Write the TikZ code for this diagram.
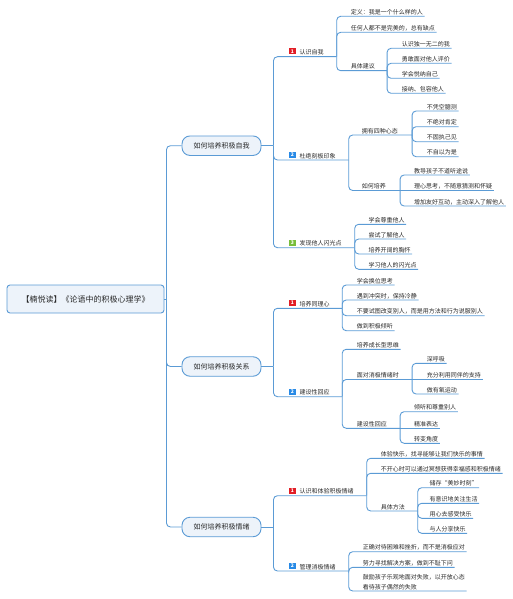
\documentclass[tikz,border=0pt]{standalone}
\usepackage{fontspec}
\setmainfont{Noto Sans CJK SC}
\definecolor{lineblue}{RGB}{91,155,213}
\definecolor{boxfill}{RGB}{237,243,250}
\definecolor{txt}{RGB}{40,40,40}
\definecolor{ired}{RGB}{226,30,38}
\definecolor{iblue}{RGB}{40,138,230}
\definecolor{igreen}{RGB}{120,190,60}
\tikzset{
 conn/.style={draw=lineblue, line width=0.9pt, rounded corners=4pt},
 stub/.style={draw=lineblue, line width=0.9pt},
 leafbase/.style={anchor=south west, inner xsep=0pt, text=txt},
 leaf/.style={leafbase, inner ysep=0.8pt, text height=4.6pt, text depth=0.9pt, font=\fontsize{6}{7}\selectfont},
 leaftwo/.style={leafbase, inner ysep=1pt, align=left, font=\fontsize{6}{9.4}\selectfont},
 topic/.style={draw=lineblue, line width=0.9pt, fill=boxfill, rounded corners=8pt, minimum width=79pt, minimum height=19.5pt, inner sep=0pt, font=\fontsize{7}{8}\selectfont, text=txt},
 rootbox/.style={draw=lineblue, line width=0.9pt, fill=boxfill, rounded corners=3pt, minimum width=157pt, minimum height=28pt, inner sep=0pt, font=\fontsize{8}{9}\selectfont, text=txt},
 numicon/.style={anchor=south west, minimum width=6.3pt, minimum height=6pt, inner sep=0pt, text=white, font=\fontsize{5}{5}\selectfont\bfseries},
}
\newcommand{\mmnode}[7][|-]{%
  \node[leaf] (#2) at (#3,#4) {#5};
  \coordinate (#2e) at ([xshift=#7pt]#2.south east);
  \draw[conn] (#6) #1 (#2e);}
\begin{document}
\begin{tikzpicture}[x=1pt,y=-1pt]
\useasboundingbox (0,0) rectangle (513,599);
% root and main topics
\node[rootbox] (root) at (85.5,299) {【楠悦读】《论语中的积极心理学》};
\node[topic] (T1) at (221.5,145.7) {如何培养积极自我};
\node[topic] (T2) at (221.5,366.5) {如何培养积极关系};
\node[topic] (T3) at (221.5,527) {如何培养积极情绪};
\coordinate (rt) at ([xshift=2pt]root.east);
\draw[stub] (root.east) -- (rt);
\foreach \t in {T1,T2,T3} {\draw[conn] (rt) |- (\t.west);}
\foreach \t in {T1,T2,T3} {\coordinate (\t e) at ([xshift=12pt]\t.east); \draw[stub] (\t.east) -- (\t e);}
% ---- T1 ----
\mmnode{A}{299.3}{56.7}{认识自我}{T1e}{13}
\node[numicon, fill=ired] (Ai) at (289,54.7) {1};
\mmnode{B}{299.3}{160}{杜绝刻板印象}{T1e}{13}
\node[numicon, fill=iblue] (Bi) at (289,158) {2};
\mmnode{C}{299.3}{247.7}{发现他人闪光点}{T1e}{13}
\node[numicon, fill=igreen] (Ci) at (289,245.7) {3};
\mmnode{A1}{350.7}{16.3}{定义：我是一个什么样的人}{Ae}{1.5}
\mmnode{A2}{350.7}{32.3}{任何人都不是完美的，总有缺点}{Ae}{1.5}
\mmnode{A3}{350.7}{70.7}{具体建议}{Ae}{12}
\mmnode{A31}{401.7}{48.3}{认识独一无二的我}{A3e}{1.5}
\mmnode{A32}{401.7}{63.3}{勇敢面对他人评价}{A3e}{1.5}
\mmnode{A33}{401.7}{78.3}{学会悦纳自己}{A3e}{1.5}
\mmnode{A34}{401.7}{93.3}{接纳、包容他人}{A3e}{1.5}
\mmnode{B1}{361.7}{135}{拥有四种心态}{Be}{14}
\mmnode{B2}{361.7}{190.5}{如何培养}{Be}{14}
\mmnode{B11}{426.7}{111}{不凭空臆测}{B1e}{1.5}
\mmnode{B12}{426.7}{126.7}{不绝对肯定}{B1e}{1.5}
\mmnode{B13}{426.7}{141.7}{不固执己见}{B1e}{1.5}
\mmnode{B14}{426.7}{156.7}{不自以为是}{B1e}{1.5}
\mmnode{B21}{414}{175}{教导孩子不道听途说}{B2e}{1.5}
\mmnode[--]{B22}{414}{190.5}{理心思考，不随意猜测和怀疑}{B2e}{1.5}
\mmnode{B23}{414}{206}{增加友好互动，主动深入了解他人}{B2e}{1.5}
\mmnode{C1}{368.3}{224.3}{学会尊重他人}{Ce}{1.5}
\mmnode{C2}{368.3}{239}{尝试了解他人}{Ce}{1.5}
\mmnode{C3}{368.3}{254}{培养开阔的胸怀}{Ce}{1.5}
\mmnode{C4}{368.3}{269.3}{学习他人的闪光点}{Ce}{1.5}
% ---- T2 ----
\mmnode{D}{299.3}{308.3}{培养同理心}{T2e}{12.5}
\node[numicon, fill=ired] (Di) at (289,306.3) {1};
\mmnode{E}{299.3}{396.7}{建设性回应}{T2e}{12.5}
\node[numicon, fill=iblue] (Ei) at (289,394.7) {2};
\mmnode{D1}{356.7}{285}{学会换位思考}{De}{1.5}
\mmnode{D2}{356.7}{300}{遇到冲突时，保持冷静}{De}{1.5}
\mmnode{D3}{356.7}{315.7}{不要试图改变别人，而是用方法和行为说服别人}{De}{1.5}
\mmnode{D4}{356.7}{330.7}{做到积极倾听}{De}{1.5}
\mmnode{E1}{356.7}{349.3}{培养成长型思维}{Ee}{1.5}
\mmnode{E2}{356.7}{379.5}{面对消极情绪时}{Ee}{13}
\mmnode{E3}{356.7}{428.3}{建设性回应}{Ee}{13}
\mmnode{E21}{426.7}{363.3}{深呼吸}{E2e}{1.5}
\mmnode[--]{E22}{426.7}{379.5}{充分利用同伴的支持}{E2e}{1.5}
\mmnode{E23}{426.7}{394}{做有氧运动}{E2e}{1.5}
\mmnode{E31}{414}{411.7}{倾听和尊重别人}{E3e}{1.5}
\mmnode[--]{E32}{414}{428.3}{精准表达}{E3e}{1.5}
\mmnode{E33}{414}{443.3}{转变角度}{E3e}{1.5}
% ---- T3 ----
\mmnode{F}{299.3}{495.7}{认识和体验积极情绪}{T3e}{13}
\node[numicon, fill=ired] (Fi) at (289,493.7) {1};
\mmnode{G}{299.3}{571}{管理消极情绪}{T3e}{13}
\node[numicon, fill=iblue] (Gi) at (289,569) {2};
\mmnode{F1}{380.7}{458.3}{体验快乐，找寻能够让我们快乐的事情}{Fe}{1.5}
\mmnode{F2}{380.7}{473.3}{不开心时可以通过冥想获得幸福感和积极情绪}{Fe}{1.5}
\mmnode{F3}{380.7}{511}{具体方法}{Fe}{12.6}
\mmnode{F31}{429.3}{487.7}{储存“美妙时刻”}{F3e}{1.5}
\mmnode{F32}{429.3}{503.3}{有意识地关注生活}{F3e}{1.5}
\mmnode{F33}{429.3}{518.3}{用心去感受快乐}{F3e}{1.5}
\mmnode{F34}{429.3}{533.3}{与人分享快乐}{F3e}{1.5}
\mmnode{G1}{362.7}{551.7}{正确对待困难和挫折，而不是消极应对}{Ge}{1.5}
\mmnode{G2}{362.7}{567.3}{努力寻找解决方案，做到不耻下问}{Ge}{1.5}
\node[leaftwo] (G3) at (362.7,591) {鼓励孩子乐观地面对失败，以开放心态\\看待孩子偶然的失败};
\coordinate (G3e) at ([xshift=1.5pt]G3.south east);
\draw[conn] (Ge) |- (G3e);
\end{tikzpicture}
\end{document}
